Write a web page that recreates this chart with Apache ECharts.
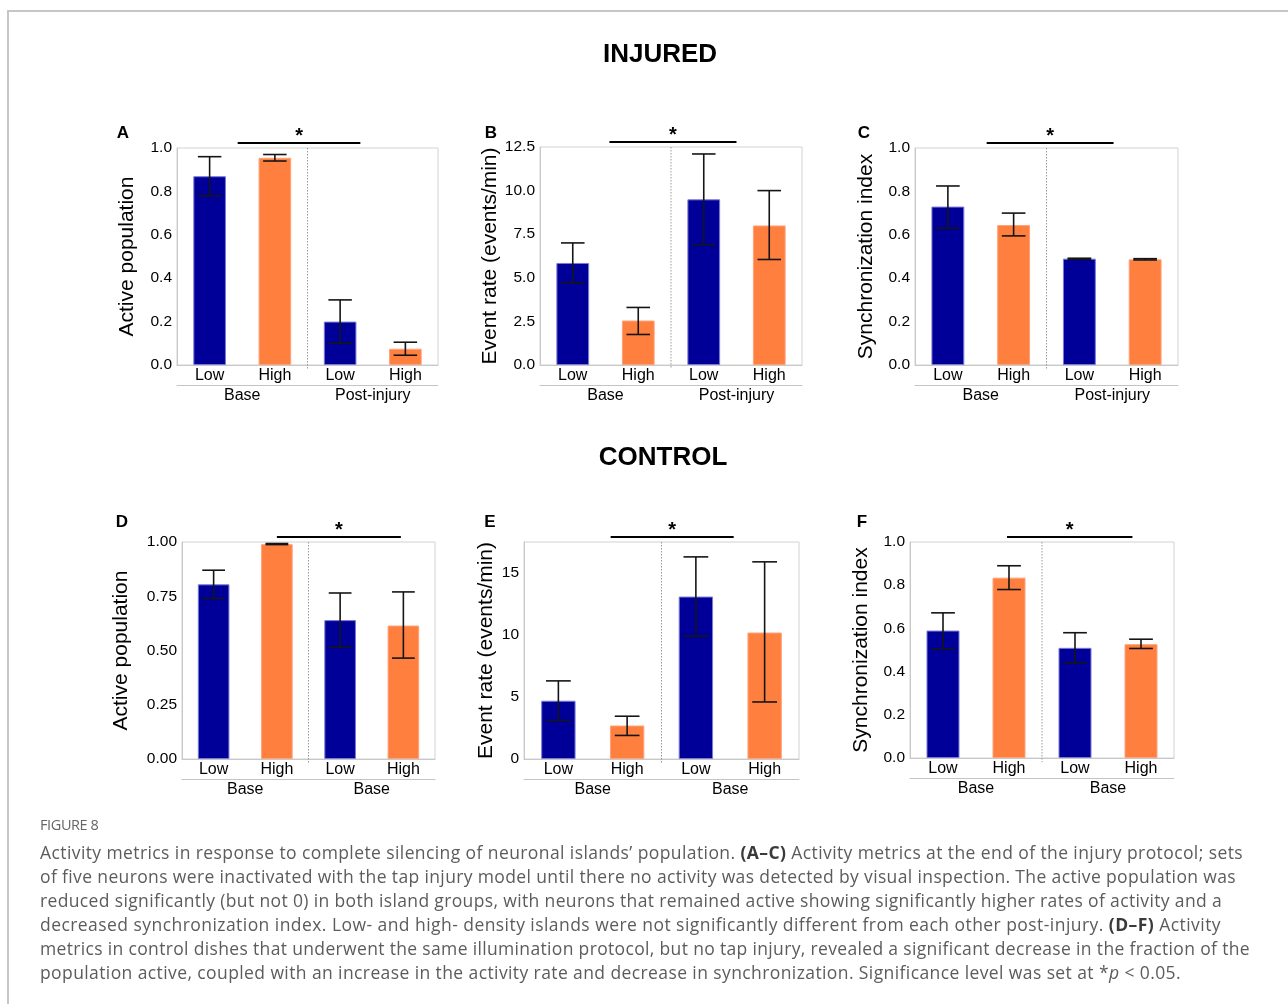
<!DOCTYPE html>
<html>
<head>
<meta charset="utf-8">
<script src="https://cdn.jsdelivr.net/npm/echarts@6/dist/echarts.min.js"></script>
<style>
  html, body { margin: 0; padding: 0; background: #fff; }
  #wrap { position: relative; width: 1288px; height: 1004px; overflow: hidden; background: #fff; }
  #chart { position: absolute; left: 0; top: 0; width: 1288px; height: 1004px; }
  #frame { position: absolute; left: 7px; top: 10px; right: -10px; bottom: -10px;
           border-top: 2px solid #c6c6c6; border-left: 2px solid #c6c6c6; pointer-events: none; }
  #figlabel { position: absolute; left: 40px; top: 816px; font: 14.5px 'Open Sans', sans-serif; color: #666;
              line-height: 18px; letter-spacing: -0.4px; }
  #caption { position: absolute; left: 40px; top: 840px; font: 17.5px 'Open Sans', sans-serif; color: #5c5c5c;
             line-height: 24px; }
  #caption div { white-space: nowrap; display: block; width: max-content; }
  #caption b { color: #3a3a3a; }
</style>
</head>
<body>
<div id="wrap">
  <div id="chart"></div>
  <div id="frame"></div>
  <div id="figlabel">FIGURE 8</div>
  <div id="caption">
    <div data-w="1203">Activity metrics in response to complete silencing of neuronal islands’ population. <b>(A–C)</b> Activity metrics at the end of the injury protocol; sets</div>
    <div data-w="1196">of five neurons were inactivated with the tap injury model until there no activity was detected by visual inspection. The active population was</div>
    <div data-w="1182">reduced significantly (but not 0) in both island groups, with neurons that remained active showing significantly higher rates of activity and a</div>
    <div data-w="1181">decreased synchronization index. Low- and high- density islands were not significantly different from each other post-injury. <b>(D–F)</b> Activity</div>
    <div data-w="1210">metrics in control dishes that underwent the same illumination protocol, but no tap injury, revealed a significant decrease in the fraction of the</div>
    <div data-w="1141">population active, coupled with an increase in the activity rate and decrease in synchronization. Significance level was set at *<i>p</i> &lt; 0.05.</div>
  </div>
</div>
<script>
// ---------------- DATA ----------------
const categories = ['Low', 'High', 'Low', 'High'];
const groupsInjured = ['Base', 'Post-injury'];
const groupsControl = ['Base', 'Base'];

const activeInjured = [0.87, 0.955, 0.20, 0.075];
const activeInjuredErr = [[0.78, 0.96], [0.94, 0.97], [0.10, 0.30], [0.045, 0.105]];
const rateInjured = [5.85, 2.55, 9.5, 8.0];
const rateInjuredErr = [[4.7, 7.0], [1.75, 3.3], [6.9, 12.1], [6.05, 10.0]];
const syncInjured = [0.73, 0.645, 0.49, 0.487];
const syncInjuredErr = [[0.63, 0.825], [0.595, 0.70], [0.487, 0.492], [0.484, 0.49]];

const activeControl = [0.805, 0.99, 0.64, 0.615];
const activeControlErr = [[0.74, 0.87], [0.988, 0.993], [0.515, 0.765], [0.465, 0.77]];
const rateControl = [4.7, 2.7, 13.1, 10.2];
const rateControlErr = [[3.1, 6.3], [1.9, 3.45], [9.9, 16.3], [4.6, 15.9]];
const syncControl = [0.59, 0.835, 0.51, 0.527];
const syncControlErr = [[0.505, 0.672], [0.78, 0.89], [0.44, 0.58], [0.507, 0.55]];

// axis scales
const yMax = [1, 12.5, 1, 1, 17.5, 1];
const yInterval = [0.2, 2.5, 0.2, 0.25, 5, 0.2];
const yDecimals = [1, 1, 1, 2, 0, 1];
const yNames = ['Active population', 'Event rate (events/min)', 'Synchronization index',
                'Active population', 'Event rate (events/min)', 'Synchronization index'];
const panelLetters = ['A', 'B', 'C', 'D', 'E', 'F'];
const sectionTitles = ['INJURED', 'CONTROL'];

// significance brackets (in category-index units) and group separator position
const sigSpans = [[0.43, 2.31], [0.56, 2.5], [0.59, 2.52], [1.0, 2.96], [0.76, 2.55], [0.97, 2.87]];
const separatorAt = 1.5;

// ---------------- LAYOUT / STYLE ----------------
const FONT = "'Liberation Sans', Arial, sans-serif";
const barColors = ['#000099', '#ff7f3f', '#000099', '#ff7f3f'];
const barEdges = ['#7a7ad6', '#ffa27a', '#7a7ad6', '#ffa27a'];
const grids = [
  { left: 177, top: 148, width: 261, height: 217 },
  { left: 540, top: 147, width: 262, height: 218 },
  { left: 915, top: 148, width: 263, height: 217 },
  { left: 182, top: 542, width: 253, height: 217 },
  { left: 524, top: 542, width: 275, height: 217 },
  { left: 910, top: 542, width: 264, height: 216 }
];
const nameGaps = [39, 38, 38, 50, 27, 38];
const letterPos = [[123, 133], [491, 133], [864, 133], [122, 522], [490, 522], [862, 522]];
const titlePos = [[660, 55], [663, 458]];

const panels = [
  { vals: activeInjured, errs: activeInjuredErr, groups: groupsInjured },
  { vals: rateInjured, errs: rateInjuredErr, groups: groupsInjured },
  { vals: syncInjured, errs: syncInjuredErr, groups: groupsInjured },
  { vals: activeControl, errs: activeControlErr, groups: groupsControl },
  { vals: rateControl, errs: rateControlErr, groups: groupsControl },
  { vals: syncControl, errs: syncControlErr, groups: groupsControl }
];

const option = { animation: false, grid: [], xAxis: [], yAxis: [], series: [], graphic: [] };

panels.forEach((p, i) => {
  option.grid.push(Object.assign({ show: true, borderColor: '#d2d2d2', borderWidth: 1, containLabel: false }, grids[i]));
  option.xAxis.push({
    type: 'category', gridIndex: i, data: categories, position: 'bottom',
    axisLine: { show: true, lineStyle: { color: '#c8c8c8' } },
    axisTick: { show: false },
    axisLabel: { interval: 0, margin: 3, fontSize: 16, color: '#000', fontFamily: FONT },
    splitLine: { show: false }
  });
  option.xAxis.push({
    type: 'category', gridIndex: i, data: p.groups, position: 'bottom', offset: 20,
    axisLine: { show: true, lineStyle: { color: '#c4c4c4' } },
    axisTick: { show: false },
    axisLabel: { interval: 0, margin: 3, fontSize: 16, color: '#000', fontFamily: FONT },
    splitLine: { show: false }
  });
  const dec = yDecimals[i];
  const iv = yInterval[i];
  option.yAxis.push({
    type: 'value', gridIndex: i, min: 0, max: yMax[i], interval: iv,
    name: yNames[i], nameLocation: 'middle', nameGap: nameGaps[i],
    nameTextStyle: { fontSize: 21, color: '#000', fontFamily: FONT },
    axisLine: { show: true, lineStyle: { color: '#c8c8c8' } },
    axisTick: { show: false },
    splitLine: { show: false },
    axisLabel: {
      margin: 5, fontSize: 15.5, color: '#000', fontFamily: FONT,
      formatter: v => {
        const k = v / iv;
        if (Math.abs(k - Math.round(k)) > 1e-6) return '';
        return v.toFixed(dec);
      }
    }
  });
  // bars
  option.series.push({
    type: 'bar', xAxisIndex: 2 * i, yAxisIndex: i, barWidth: '50%',
    data: p.vals.map((v, k) => ({
      value: v,
      itemStyle: { color: barColors[k], borderColor: barEdges[k], borderWidth: 1 }
    }))
  });
  // error bars
  option.series.push({
    type: 'custom', xAxisIndex: 2 * i, yAxisIndex: i, clip: false, z: 5,
    data: p.errs.map((e, k) => [k, e[0], e[1]]),
    encode: { x: 0, y: [1, 2] },
    renderItem: (params, api) => {
      const lo = api.coord([api.value(0), api.value(1)]);
      const hi = api.coord([api.value(0), api.value(2)]);
      const hw = api.size([1, 0])[0] * 0.18;
      const st = { stroke: '#151515', lineWidth: 1.6 };
      return {
        type: 'group',
        children: [
          { type: 'line', shape: { x1: lo[0], y1: lo[1], x2: hi[0], y2: hi[1] }, style: st },
          { type: 'line', shape: { x1: lo[0] - hw, y1: lo[1], x2: lo[0] + hw, y2: lo[1] }, style: st },
          { type: 'line', shape: { x1: hi[0] - hw, y1: hi[1], x2: hi[0] + hw, y2: hi[1] }, style: st }
        ]
      };
    }
  });
  // separator + significance bracket
  option.series.push({
    type: 'custom', xAxisIndex: 2 * i, yAxisIndex: i, clip: false, z: 4,
    data: [[0, 0]],
    renderItem: (params, api) => {
      const c0 = api.coord([0, 0]);
      const c1 = api.coord([1, 0]);
      const step = c1[0] - c0[0];
      const xAt = f => c0[0] + f * step;
      const top = api.coord([0, yMax[i]])[1];
      const bottom = c0[1];
      const s = sigSpans[i];
      const ly = top - 5;
      return {
        type: 'group',
        children: [
          { type: 'line', shape: { x1: xAt(separatorAt), y1: top, x2: xAt(separatorAt), y2: bottom + 4 },
            style: { stroke: '#9a9a9a', lineWidth: 1, lineDash: [1.5, 1.5] } },
          { type: 'line', shape: { x1: xAt(s[0]), y1: ly, x2: xAt(s[1]), y2: ly },
            style: { stroke: '#000', lineWidth: 2 } },
          { type: 'text', x: xAt((s[0] + s[1]) / 2), y: ly - 7,
            style: { text: '*', fill: '#000', font: 'bold 20px ' + FONT, align: 'center', verticalAlign: 'middle' } }
        ]
      };
    }
  });
  option.graphic.push({
    type: 'text', x: letterPos[i][0], y: letterPos[i][1],
    style: { text: panelLetters[i], fill: '#000', font: 'bold 17px ' + FONT, align: 'center', verticalAlign: 'middle' }
  });
});

sectionTitles.forEach((t, j) => {
  option.graphic.push({
    type: 'text', x: titlePos[j][0], y: titlePos[j][1],
    style: { text: t, fill: '#000', font: 'bold 26px ' + FONT, align: 'center', verticalAlign: 'middle' }
  });
});

const chart = echarts.init(document.getElementById('chart'), null, { renderer: 'canvas', width: 1288, height: 1004 });
chart.setOption(option);

// fit caption lines to their measured widths
function fitCaption() {
  document.querySelectorAll('#caption div').forEach(d => {
    d.style.letterSpacing = '0px';
    const target = +d.getAttribute('data-w');
    const w = d.getBoundingClientRect().width;
    const n = d.textContent.length;
    d.style.letterSpacing = ((target - w) / n).toFixed(3) + 'px';
  });
}
fitCaption();
if (document.fonts && document.fonts.ready) document.fonts.ready.then(fitCaption);
</script>
</body>
</html>
